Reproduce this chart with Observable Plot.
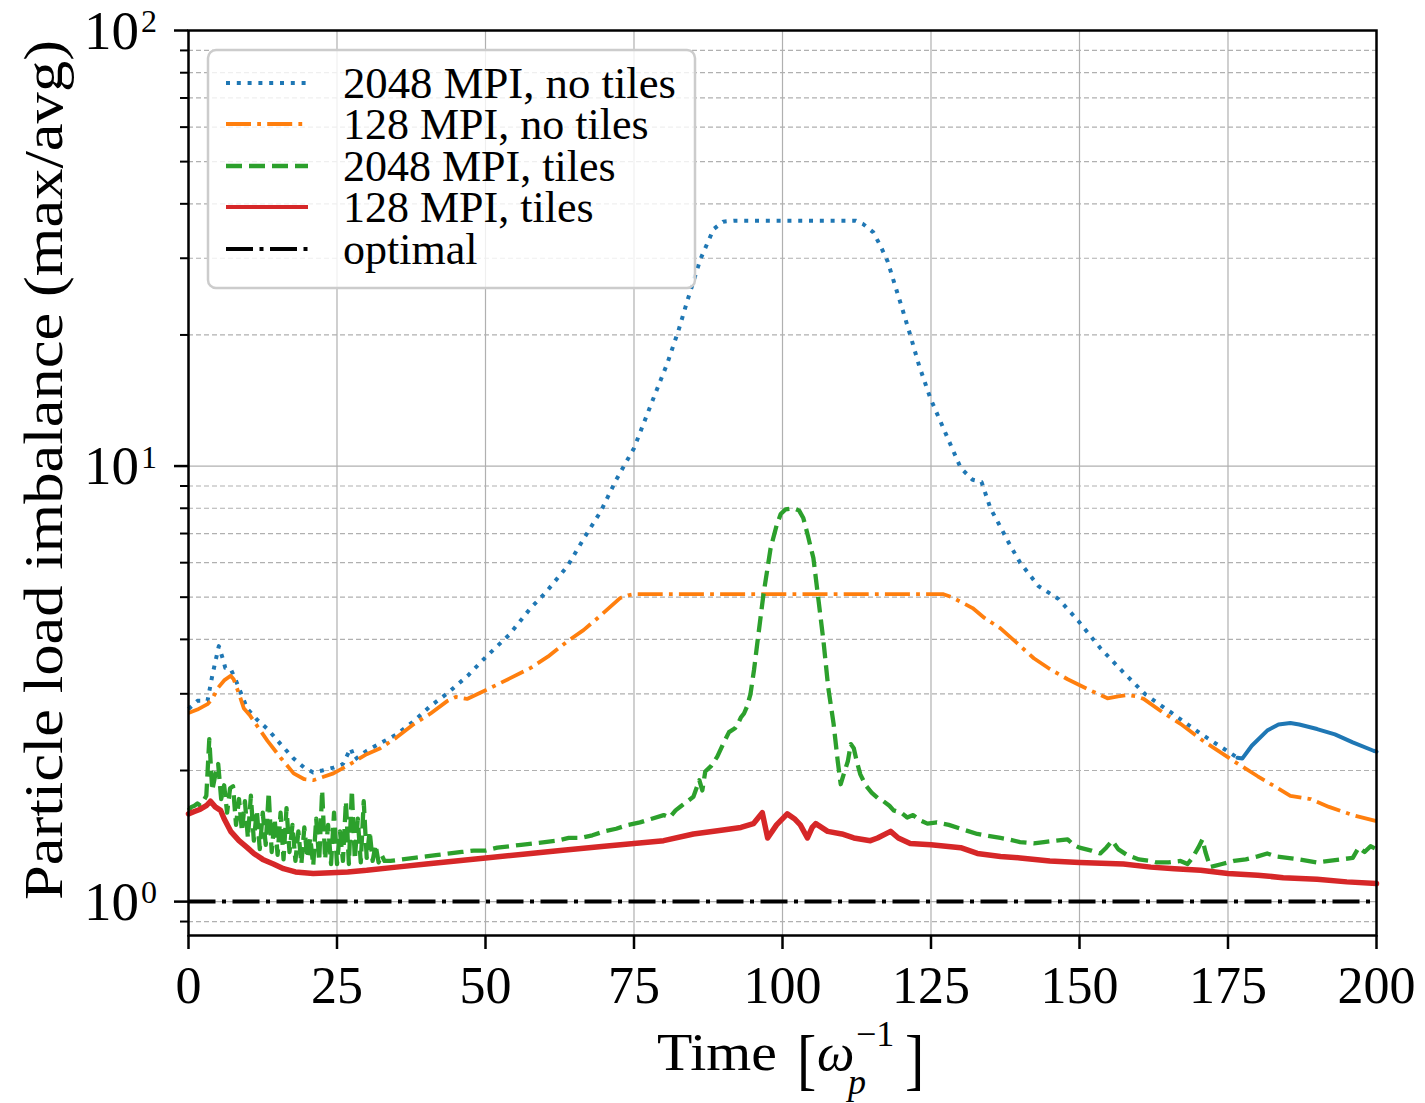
<!DOCTYPE html>
<html><head><meta charset="utf-8">
<script src="https://cdn.jsdelivr.net/npm/d3@7"></script>
<script src="https://cdn.jsdelivr.net/npm/@observablehq/plot@0.6"></script>
<style>
body{margin:0;background:#fff}
#chart{width:1425px;height:1103px}
</style>
</head><body><div id="chart"></div>
<script>
// ---- data ----
const xTicks = [0, 25, 50, 75, 100, 125, 150, 175, 200];
const yMajor = [1, 10, 100];
const yMajorExp = ["0", "1", "2"];
const yMinor = [0.9, 2, 3, 4, 5, 6, 7, 8, 9, 20, 30, 40, 50, 60, 70, 80, 90];

const seriesNames = ["2048 MPI, no tiles", "128 MPI, no tiles", "2048 MPI, tiles", "128 MPI, tiles", "optimal"];

const blueT = [0,1.5,3.2,4,5.1,5.8,6.2,7.1,7.9,9.9,11.5,13.3,15.5,17.7,19.5,21,22.5,24.4,26,27.3,28,30,32.3,35,38,40.7,43.6,47,50.2,54,57.6,60,63.8,66.5,69.4,72,75,78,80.6,82.5,84,86.2,88.4,90,91.8,112.3,113.5,115.3,116.5,117.7,119.9,121.5,123,124.9,127.8,130,132,133.5,135,136.2,138,140,143.1,145,146.5,149.8,153.5,157.2,161.1,165.7,170.4,176.6];
const blueV = [2.77,2.89,2.89,3.3,3.86,3.6,3.44,3.42,3.24,2.77,2.62,2.49,2.30,2.13,2.03,1.98,2.0,2.03,2.07,2.25,2.12,2.22,2.31,2.42,2.60,2.81,3.01,3.3,3.66,4.1,4.72,5.1,5.89,6.8,7.87,9.3,10.99,14.0,17.2,20.5,24,29.9,35,36.4,36.6,36.6,36.0,34.4,32,29.5,23.6,20.0,17,14.3,11.6,9.9,9.3,9.2,8.0,7.46,6.7,6.0,5.30,5.1,4.95,4.41,3.82,3.38,2.99,2.70,2.43,2.14];

const blueTailT = [176.6,177.4,179,181.6,183.5,185.5,187,190,193,196,199.5,200];
const blueTailV = [2.14,2.13,2.28,2.47,2.55,2.57,2.55,2.49,2.42,2.32,2.22,2.21];

const orangeT = [0,1.5,3.2,4,5,6,7.1,7.6,8.5,9.3,10.4,12,13.3,15.5,17.7,19.5,21,22.5,24.4,27,30,32.3,35,38,40.7,43.6,45,46.9,50.3,54,57.6,60.5,63.8,66.5,68.9,71,72.7,74,75,127.1,128.5,130,132,134,136.7,139.5,142.3,145,148,151.5,154.7,156.5,158,159.5,160.8,164,167,171,176,180,185.5,188.9,192,196,200];
const orangeV = [2.71,2.76,2.84,2.92,3.1,3.22,3.30,3.24,3.0,2.78,2.67,2.48,2.34,2.14,1.97,1.91,1.90,1.93,1.97,2.06,2.18,2.25,2.38,2.56,2.70,2.89,2.95,2.92,3.07,3.25,3.44,3.65,3.96,4.2,4.48,4.75,4.98,5.05,5.08,5.08,5.0,4.88,4.72,4.48,4.24,3.92,3.62,3.42,3.24,3.07,2.93,2.96,2.98,2.96,2.92,2.72,2.56,2.33,2.10,1.94,1.75,1.72,1.65,1.58,1.53];

const greenT = [0,0.5,1,1.5,2,2.5,3,3.5,4,4.5,5,5.5,6,6.5,7,7.5,8,8.5,9,9.5,10,10.5,11,11.5,12,12.5,13,13.5,14,14.5,15,15.5,16,16.5,17,17.5,18,18.5,19,19.5,20,20.5,21,21.5,22,22.5,23,23.5,24,24.5,25,25.5,26,26.5,27,27.5,28,28.5,29,29.5,30,30.5,31,31.5,32,32.5,33,34,36,38,40,42,44,46,48,50,52,54,56,58,60,62,64,66,68,70,72,74,76,78,80,81,82,83,84,85,86,86.5,87,88,89,90,91,92,92.5,93,93.5,94,94.6,95.2,95.8,96.8,98,99,99.7,100.5,101.9,102.8,103.5,104.3,105.2,106,106.9,107.7,108.6,109.3,109.8,110.3,111,111.5,112,112.5,113.1,114,115,116,117,118,118.7,120,121,122,123,124.4,126,128,130,132.8,134,136.7,138,140,142.3,144,146,148,149,150,152,153.5,154.5,155.5,156.5,158,160,162,163,165,167,168.2,169,170,170.7,171.2,172,174,176,178,180,181.6,183,185,187,190,192,194,196,197,198,199,200];
const greenV = [1.62,1.65,1.66,1.68,1.66,1.70,1.75,2.36,1.80,1.95,2.07,1.72,1.85,1.60,1.82,1.84,1.50,1.72,1.45,1.70,1.40,1.75,1.38,1.62,1.32,1.60,1.35,1.78,1.30,1.55,1.28,1.60,1.25,1.64,1.30,1.50,1.24,1.45,1.22,1.48,1.26,1.40,1.21,1.55,1.24,1.80,1.25,1.50,1.22,1.60,1.22,1.45,1.24,1.70,1.22,1.80,1.25,1.55,1.23,1.70,1.26,1.45,1.24,1.35,1.23,1.28,1.24,1.24,1.25,1.26,1.27,1.28,1.29,1.30,1.31,1.31,1.33,1.34,1.35,1.36,1.37,1.38,1.40,1.40,1.42,1.45,1.47,1.50,1.52,1.55,1.58,1.56,1.62,1.66,1.70,1.74,1.90,1.80,1.99,2.05,2.15,2.30,2.45,2.50,2.56,2.65,2.70,2.80,2.99,3.4,3.96,5.08,6.48,7.3,7.76,7.95,8.0,7.9,7.6,6.9,6.15,5.0,3.96,3.1,2.56,2.1,1.86,1.96,2.1,2.3,2.25,2.1,1.96,1.85,1.78,1.73,1.70,1.66,1.62,1.60,1.56,1.58,1.54,1.51,1.52,1.50,1.47,1.43,1.42,1.40,1.39,1.37,1.36,1.37,1.38,1.39,1.35,1.33,1.31,1.29,1.33,1.38,1.32,1.28,1.25,1.24,1.23,1.23,1.24,1.22,1.26,1.33,1.39,1.30,1.20,1.22,1.24,1.25,1.27,1.29,1.27,1.26,1.25,1.23,1.24,1.25,1.26,1.33,1.30,1.34,1.32];

const redT = [0,1,2,3,3.7,4.5,5.4,6,7.1,8.5,9.9,11,12.5,14.3,16,18,21,24,26.8,30,35,40,45,50,57.6,62.6,70,75,80,85,90,93,95.1,96.6,97.5,99,100.8,102,103,104.2,105,105.6,107.6,110,112,114.8,116,118.2,119.5,121.5,125,130,132.8,136.7,140,145,150,157.4,162,166,170.4,175,180,184.3,190,195,200];
const redV = [1.59,1.61,1.63,1.66,1.70,1.65,1.62,1.55,1.45,1.38,1.33,1.29,1.25,1.22,1.19,1.17,1.16,1.165,1.17,1.18,1.20,1.22,1.24,1.26,1.29,1.31,1.34,1.36,1.38,1.43,1.46,1.48,1.51,1.60,1.40,1.50,1.59,1.55,1.50,1.40,1.48,1.51,1.45,1.43,1.40,1.38,1.40,1.45,1.40,1.36,1.35,1.33,1.29,1.27,1.26,1.24,1.23,1.22,1.20,1.19,1.18,1.16,1.15,1.135,1.125,1.11,1.10];

const optimalT = [0, 200];
const optimalV = [1, 1];

// ---- build tables ----
const rows = (T, V) => T.map((t, i) => ({t, v: V[i]}));
const blue = rows(blueT, blueV), blueTail = rows(blueTailT, blueTailV);
const orange = rows(orangeT, orangeV), green = rows(greenT, greenV);
const red = rows(redT, redV), optimal = rows(optimalT, optimalV);

const colors = ["#1f77b4", "#ff7f0e", "#2ca02c", "#d62728", "#000000"];
const dashes = ["4,6.8", "25,6.2,3.8,6.2", "16,7", null, "27,6.5,4,6.5"];
const widths = [4, 3.8, 4.3, 4, 4];
const FONT = "'Liberation Serif', 'DejaVu Serif', serif";

const plot = Plot.plot({
  width: 1425, height: 1103,
  marginLeft: 188, marginRight: 49, marginTop: 30, marginBottom: 168,
  x: {domain: [0, 200]},
  y: {type: "log", domain: [0.836, 100]},
  style: {fontFamily: FONT, background: "white", color: "black"},
  marks: [
    Plot.gridX(xTicks, {stroke: "#b0b0b0", strokeOpacity: 1, strokeWidth: 1.2}),
    Plot.gridY(yMajor, {stroke: "#b0b0b0", strokeOpacity: 1, strokeWidth: 1.2}),
    Plot.gridY(yMinor, {stroke: "#b0b0b0", strokeOpacity: 1, strokeWidth: 1.2, strokeDasharray: "5,3"}),
    Plot.line(blue, {x: "t", y: "v", stroke: colors[0], strokeWidth: widths[0], strokeDasharray: dashes[0], strokeLinecap: "butt"}),
    Plot.line(blueTail, {x: "t", y: "v", stroke: colors[0], strokeWidth: widths[0]}),
    Plot.line(orange, {x: "t", y: "v", stroke: colors[1], strokeWidth: widths[1], strokeDasharray: dashes[1], strokeLinecap: "butt"}),
    Plot.line(green, {x: "t", y: "v", stroke: colors[2], strokeWidth: widths[2], strokeDasharray: dashes[2], strokeLinecap: "butt"}),
    Plot.line(red, {x: "t", y: "v", stroke: colors[3], strokeWidth: 5.5}),
    Plot.line(optimal, {x: "t", y: "v", stroke: colors[4], strokeWidth: widths[4], strokeDasharray: dashes[4], strokeLinecap: "butt"}),
    Plot.frame({stroke: "black", strokeWidth: 2.5}),
    Plot.axisX(xTicks, {tickSize: 14, tickPadding: 17, fontSize: 52, strokeWidth: 2.5, label: null, tickFormat: d => String(d)}),
    Plot.axisY(yMajor, {tickSize: 14, strokeWidth: 2.5, label: null, tickFormat: () => ""}),
    Plot.axisY(yMinor, {tickSize: 8, strokeWidth: 2, label: null, tickFormat: () => ""})
  ]
});

document.getElementById("chart").appendChild(plot);
const svg = d3.select(plot);
const ys = plot.scale("y");

// y tick labels 10^n
yMajor.forEach((v, i) => {
  const y = ys.apply(v);
  svg.append("text").attr("font-family", FONT).attr("fill", "black").attr("text-anchor", "end")
    .attr("x", 139).attr("y", y + 18.5).attr("font-size", 55).text("10");
  svg.append("text").attr("font-family", FONT).attr("fill", "black").attr("text-anchor", "start")
    .attr("x", 141).attr("y", y + 2).attr("font-size", 32).text(yMajorExp[i]);
});

// y axis title
svg.append("text").attr("font-family", FONT).attr("font-size", 55).attr("fill", "black")
  .attr("transform", "translate(62,470) rotate(-90)").attr("text-anchor", "middle")
  .attr("textLength", 860).attr("lengthAdjust", "spacingAndGlyphs")
  .text("Particle load imbalance (max/avg)");

// x axis title: Time [ω_p^{-1}]
const xt = svg.append("g").attr("font-family", FONT).attr("fill", "black").attr("text-anchor", "start");
xt.append("text").attr("x", 657).attr("y", 1070).attr("font-size", 53).attr("textLength", 120).attr("lengthAdjust", "spacingAndGlyphs").text("Time");
xt.append("text").attr("x", 797).attr("y", 1079).attr("font-size", 58).attr("transform", "translate(0,-180) scale(1,1.17)").text("[");
xt.append("text").attr("x", 817).attr("y", 1070).attr("font-size", 53).attr("font-style", "italic").text("ω");
xt.append("text").attr("x", 848).attr("y", 1094).attr("font-size", 36).attr("font-style", "italic").text("p");
xt.append("text").attr("x", 856).attr("y", 1046).attr("font-size", 36).text("−1");
xt.append("text").attr("x", 905).attr("y", 1079).attr("font-size", 58).attr("transform", "translate(0,-180) scale(1,1.17)").text("]");

// legend
const lg = svg.append("g").attr("text-anchor", "start");
lg.append("rect").attr("x", 208).attr("y", 50).attr("width", 487).attr("height", 238).attr("rx", 8)
  .attr("fill", "white").attr("fill-opacity", 0.8).attr("stroke", "#cccccc").attr("stroke-width", 2.5);
const rowsY = [83, 124, 166, 207, 249];
seriesNames.forEach((name, i) => {
  const l = lg.append("line").attr("x1", 226).attr("x2", 308).attr("y1", rowsY[i]).attr("y2", rowsY[i])
    .attr("stroke", colors[i]).attr("stroke-width", widths[i]).attr("stroke-linecap", "butt");
  if (dashes[i]) l.attr("stroke-dasharray", dashes[i]);
  lg.append("text").attr("x", 343).attr("y", rowsY[i] + 15).attr("font-family", FONT).attr("font-size", 44)
    .attr("fill", "black").attr("text-anchor", "start")
    .attr("textLength", i === 0 ? 333 : null).attr("lengthAdjust", "spacingAndGlyphs").text(name);
});
</script>
</body></html>
